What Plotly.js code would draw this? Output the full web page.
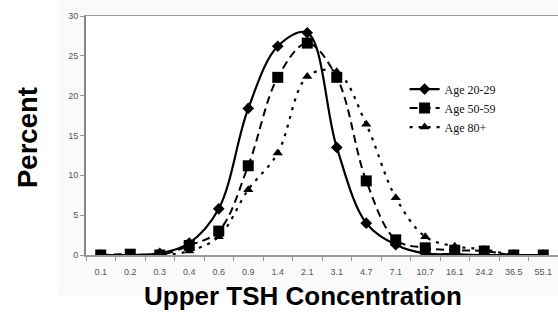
<!DOCTYPE html>
<html>
<head>
<meta charset="utf-8">
<script src="https://cdn.plot.ly/plotly-3.0.1.min.js"></script>
<style>html,body{margin:0;padding:0;background:#fff;}#chart{width:558px;height:322px;}</style>
</head>
<body>
<div id="chart"></div>
<script>
var categories = ["0.1","0.2","0.3","0.4","0.6","0.9","1.4","2.1","3.1","4.7","7.1","10.7","16.1","24.2","36.5","55.1"];
var age2029 = [0, 0, 0.2, 1.5, 5.8, 18.4, 26.2, 27.9, 13.5, 4.0, 1.3, 0.2, 0.1, 0, 0, 0];
var age5059 = [0, 0.1, 0, 1.2, 3.0, 11.2, 22.3, 26.6, 22.3, 9.3, 1.9, 0.9, 0.6, 0.5, 0, 0];
var age80 = [0, 0, 0, 0.5, 2.3, 8.2, 12.8, 22.4, 23.0, 16.4, 7.2, 2.3, 1.1, 0.7, 0, 0];
var seriesNames = ["Age 20-29", "Age 50-59", "Age 80+"];
var yTitle = "Percent";
var xTitle = "Upper TSH Concentration";

var traces = [
  {x: categories, y: age2029, name: seriesNames[0], type: "scatter", mode: "lines+markers",
   line: {color: "#000", width: 2.2, shape: "spline", smoothing: 1},
   marker: {symbol: "diamond", size: 9, color: "#000"}},
  {x: categories, y: age5059, name: seriesNames[1], type: "scatter", mode: "lines+markers",
   line: {color: "#000", width: 2, shape: "spline", smoothing: 1, dash: "8px,5px"},
   marker: {symbol: "square", size: 11, color: "#000"}},
  {x: categories, y: age80, name: seriesNames[2], type: "scatter", mode: "lines+markers",
   line: {color: "#000", width: 2.2, shape: "spline", smoothing: 1, dash: "3px,6px"},
   marker: {symbol: "triangle-up", size: 9, color: "#000"}}
];

var layout = {
  width: 558, height: 322,
  margin: {l: 86, r: 0, t: 16, b: 67, pad: 0},
  paper_bgcolor: "#fff",
  plot_bgcolor: "#fff",
  showlegend: true,
  legend: {x: 0.675, y: 0.755, xanchor: "left", yanchor: "top", bgcolor: "rgba(0,0,0,0)",
           font: {family: "Liberation Serif, Times New Roman, serif", size: 12, color: "#111"},
           tracegroupgap: 0, itemwidth: 30},
  xaxis: {type: "category", range: [-0.5, 15.5], showgrid: false, zeroline: false,
          showline: true, linecolor: "#999", linewidth: 1.5, mirror: true,
          ticks: "outside", ticklen: 4, tickcolor: "#999", tickson: "boundaries",
          ticklabelstandoff: 8,
          tickfont: {family: "Liberation Sans, Arial, sans-serif", size: 9, color: "#555"}},
  yaxis: {range: [0, 30], dtick: 5, showgrid: false, zeroline: false,
          showline: true, linecolor: "#888", linewidth: 2,
          ticks: "outside", ticklen: 4, tickcolor: "#999",
          tickfont: {family: "Liberation Sans, Arial, sans-serif", size: 9, color: "#555"}},
  shapes: [
    {type: "rect", xref: "paper", yref: "paper", x0: -0.0614, x1: 1, y0: -0.17, y1: 1.07,
     fillcolor: "#fafafa", line: {width: 0}, layer: "below"},
    {type: "rect", xref: "paper", yref: "paper", x0: 0, x1: 1, y0: 0, y1: 1,
     fillcolor: "#fff", line: {width: 0}, layer: "below"}
  ],
  annotations: [
    {text: yTitle, xref: "paper", yref: "paper", x: (27.5 - 86) / 472, y: (255 - 137.5) / 239,
     xanchor: "center", yanchor: "middle", textangle: -90, showarrow: false,
     font: {family: "Liberation Sans, Arial, sans-serif", size: 27.5, color: "#000", weight: "bold"}},
    {text: xTitle, xref: "paper", yref: "paper", x: (303 - 86) / 472, y: (255 - 296) / 239,
     xanchor: "center", yanchor: "middle", showarrow: false,
     font: {family: "Liberation Sans, Arial, sans-serif", size: 26, color: "#000", weight: "bold"}}
  ]
};

Plotly.newPlot("chart", traces, layout, {staticPlot: true, displayModeBar: false});
</script>
</body>
</html>
